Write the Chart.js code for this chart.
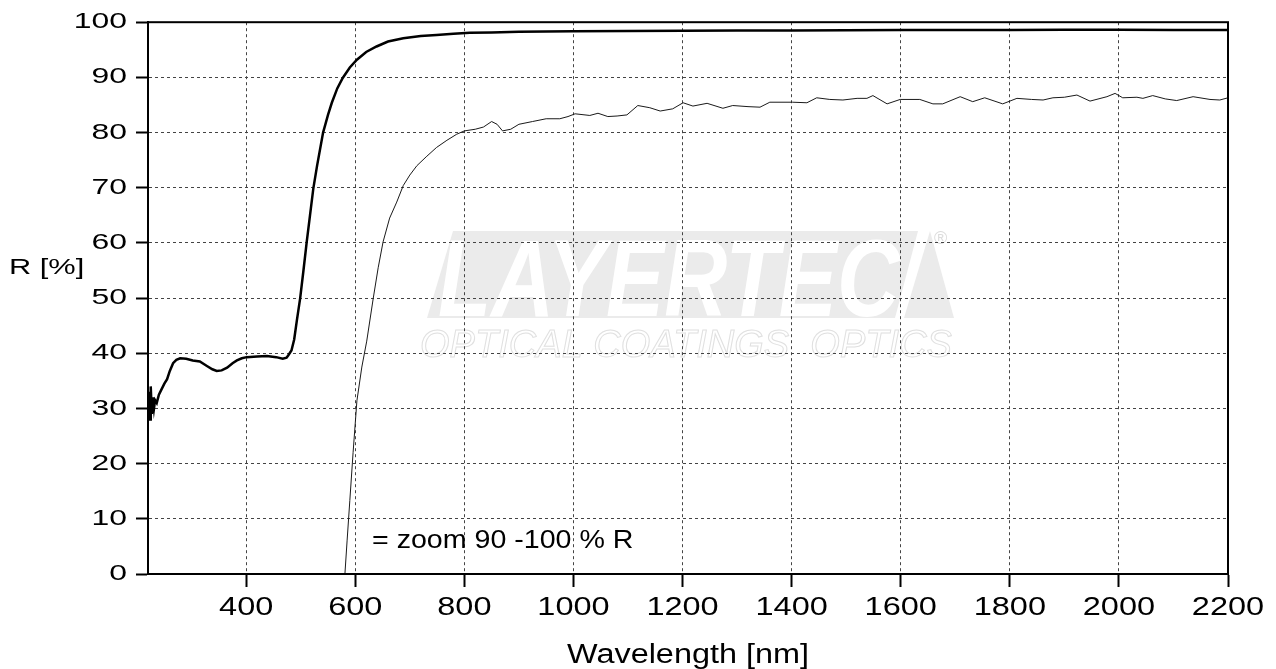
<!DOCTYPE html>
<html>
<head>
<meta charset="utf-8">
<script src="https://cdn.jsdelivr.net/npm/chart.js@4.4.1/dist/chart.umd.min.js"></script>
<style>
html,body{margin:0;padding:0;background:#fff;}
canvas{display:block;}
</style>
</head>
<body>
<canvas id="c" width="1276" height="669"></canvas>
<script>
// ---- Data ----
const mainWl = [220,222,224,225,227,229,231,233,236,240,245,250,255,260,266,272,279,290,302,315,328,338,346,355,365,375,383,392,401,420,438,455,467,474,477,483,488,493,499,505,511,517,523,530,541,550,557,567,577,590,603,620,639,660,688,720,749,780,810,850,900,1000,1100,1200,1300,1400,1500,1600,1700,1800,1900,2000,2100,2200];
const mainR  = [29.5,33,28,34,29,32,30,31.5,31,32.5,33.5,34.5,35.3,36.8,38.2,38.8,39.1,39.0,38.7,38.5,37.7,37.1,36.8,36.9,37.4,38.2,38.7,39.1,39.3,39.4,39.5,39.3,39.0,39.2,39.6,40.5,42.5,46,50,55,60.2,65,69.8,74,80,83.2,85.4,88,89.9,91.8,93.2,94.6,95.6,96.5,97.1,97.5,97.7,97.9,98.1,98.15,98.25,98.35,98.4,98.45,98.5,98.5,98.55,98.6,98.6,98.6,98.65,98.65,98.6,98.6];

const zoomWl = [581,585,590,596,603,612,621,633,642,651,663,676,688,700,713,730,749,768,786,800,820,835,850,860,870,885,900,925,950,975,990,1003,1030,1045,1063,1080,1098,1118,1140,1159,1182,1201,1219,1245,1274,1292,1320,1342,1360,1402,1428,1446,1470,1494,1520,1538,1549,1575,1599,1635,1659,1677,1709,1732,1754,1787,1813,1840,1861,1879,1900,1923,1947,1978,1993,2007,2033,2044,2062,2085,2106,2136,2167,2185,2200];
const zoomR  = [0,6,13.3,22,31.4,37.5,42.2,50,55.5,60.2,64.5,67.4,70.4,72.3,74,75.6,77.3,78.6,79.7,80.3,80.6,81,82,81.5,80.3,80.6,81.5,82,82.5,82.5,82.9,83.4,83.1,83.5,82.9,83.0,83.2,84.9,84.5,83.9,84.3,85.4,84.8,85.3,84.4,84.9,84.7,84.6,85.5,85.5,85.4,86.3,86.0,85.9,86.2,86.2,86.7,85.2,86.0,86.0,85.2,85.2,86.5,85.6,86.3,85.2,86.2,86.0,85.9,86.3,86.4,86.8,85.7,86.5,87.1,86.3,86.4,86.2,86.7,86.1,85.8,86.5,86.0,85.9,86.3];

const xTicks = [400,600,800,1000,1200,1400,1600,1800,2000,2200];
const yTicks = [0,10,20,30,40,50,60,70,80,90,100];

const xTitle = 'Wavelength [nm]';
const yTitle = 'R [%]';
const noteText = '= zoom 90 -100 % R';

const FONT = '"Liberation Sans", Arial, sans-serif';
// horizontal stretch of the reference lettering, keyed by font size
const STRETCH = { 25: 1.3, 22: 1.45, 27: 1.2 };

function toPts(xs, ys){ return xs.map((x,i)=>({x:x, y:ys[i]})); }

function stretchedText(ctx, text, x, y, sx){
  ctx.save(); ctx.translate(x,y); ctx.scale(sx,1); ctx.fillText(text,0,0); ctx.restore();
}

const decor = {
  id:'decor',
  beforeDraw(chart){
    const ctx = chart.ctx;
    ctx.save();
    ctx.fillStyle = '#fff';
    ctx.fillRect(0,0,chart.width,chart.height);
    // watermark band
    ctx.fillStyle = '#ebebeb';
    ctx.beginPath();
    ctx.moveTo(453,231); ctx.lineTo(918,231); ctx.lineTo(895,318); ctx.lineTo(427,318);
    ctx.closePath(); ctx.fill();
    ctx.beginPath();
    ctx.moveTo(930,231); ctx.lineTo(954,318); ctx.lineTo(904,318);
    ctx.closePath(); ctx.fill();
    ctx.fillStyle = '#fff';
    ctx.font = 'italic bold 110px ' + FONT;
    let t = 'LAYERTEC';
    let w = ctx.measureText(t).width;
    ctx.save();
    ctx.translate(438,316); ctx.scale(462/w,1);
    ctx.textBaseline = 'alphabetic';
    ctx.fillText(t,0,0);
    ctx.restore();
    ctx.fillStyle = '#dcdcdc';
    ctx.font = '18px ' + FONT;
    ctx.textBaseline = 'middle';
    ctx.fillText('\u00AE', 934, 239);
    ctx.strokeStyle = '#e0e0e0';
    ctx.lineWidth = 1;
    ctx.font = 'italic 38px ' + FONT;
    t = 'OPTICAL COATINGS  OPTICS';
    w = ctx.measureText(t).width;
    ctx.save();
    ctx.translate(420,357); ctx.scale(532/w,1);
    ctx.textBaseline = 'alphabetic';
    ctx.strokeText(t,0,0);
    ctx.restore();
    ctx.restore();
    // stretch axis lettering while the scales draw
    const orig = CanvasRenderingContext2D.prototype.fillText;
    ctx.fillText = function(text, x, y, mw){
      const m = /(\d+(?:\.\d+)?)px/.exec(this.font);
      const sx = m ? STRETCH[Math.round(parseFloat(m[1]))] : undefined;
      if (sx) {
        this.save(); this.translate(x,y); this.scale(sx,1); orig.call(this,text,0,0); this.restore();
      } else if (mw === undefined) {
        orig.call(this,text,x,y);
      } else {
        orig.call(this,text,x,y,mw);
      }
    };
  },
  beforeDatasetsDraw(chart){
    delete chart.ctx.fillText;
  },
  afterDraw(chart){
    const ctx = chart.ctx;
    delete ctx.fillText;
    const a = chart.chartArea;
    ctx.save();
    ctx.strokeStyle = '#000';
    ctx.lineWidth = 2;
    ctx.setLineDash([]);
    ctx.strokeRect(a.left, a.top, a.right - a.left, a.bottom - a.top);
    ctx.fillStyle = '#000';
    ctx.textBaseline = 'middle';
    ctx.textAlign = 'left';
    ctx.font = '22px ' + FONT;
    stretchedText(ctx, yTitle, 9, 268, 1.4);
    ctx.font = '26px ' + FONT;
    stretchedText(ctx, noteText, 372, 541, 1.1);
    ctx.restore();
  }
};

new Chart(document.getElementById('c'), {
  type: 'line',
  data: {
    datasets: [
      { data: toPts(mainWl, mainR), borderColor:'#000', borderWidth:2.5, pointRadius:0, tension:0, fill:false },
      { data: toPts(zoomWl, zoomR), borderColor:'#1a1a1a', borderWidth:1, pointRadius:0, tension:0, fill:false }
    ]
  },
  options: {
    responsive:false,
    animation:false,
    devicePixelRatio:1,
    layout:{ padding:{ left:0, top:17, right:48, bottom:0 } },
    plugins:{ legend:{display:false}, tooltip:{enabled:false}, title:{display:false} },
    scales:{
      x:{
        type:'linear', min:220, max:2200,
        afterBuildTicks(s){ s.ticks = xTicks.map(v=>({value:v})); },
        afterFit(s){ s.height = 95; },
        grid:{ color:'#444', lineWidth:1, drawTicks:true, tickLength:13, tickColor:'#000', tickWidth:2 },
        border:{ display:true, color:'#000', width:2, dash:[3,3] },
        ticks:{ color:'#000', font:{family:FONT, size:25}, padding:6, maxRotation:0, autoSkip:false,
                callback:(v)=>String(v) },
        title:{ display:true, text:xTitle, color:'#000', font:{family:FONT, size:27, lineHeight:1}, padding:{top:0,bottom:0} }
      },
      y:{
        type:'linear', min:0, max:100,
        afterBuildTicks(s){ s.ticks = yTicks.map(v=>({value:v})); },
        afterFit(s){ s.width = 148; },
        grid:{ color:'#444', lineWidth:1, drawTicks:true, tickLength:12, tickColor:'#000', tickWidth:2 },
        border:{ display:true, color:'#000', width:2, dash:[3,3] },
        ticks:{ color:'#000', font:{family:FONT, size:22}, padding:9, callback:(v)=>String(v) }
      }
    }
  },
  plugins:[decor]
});
</script>
</body>
</html>
